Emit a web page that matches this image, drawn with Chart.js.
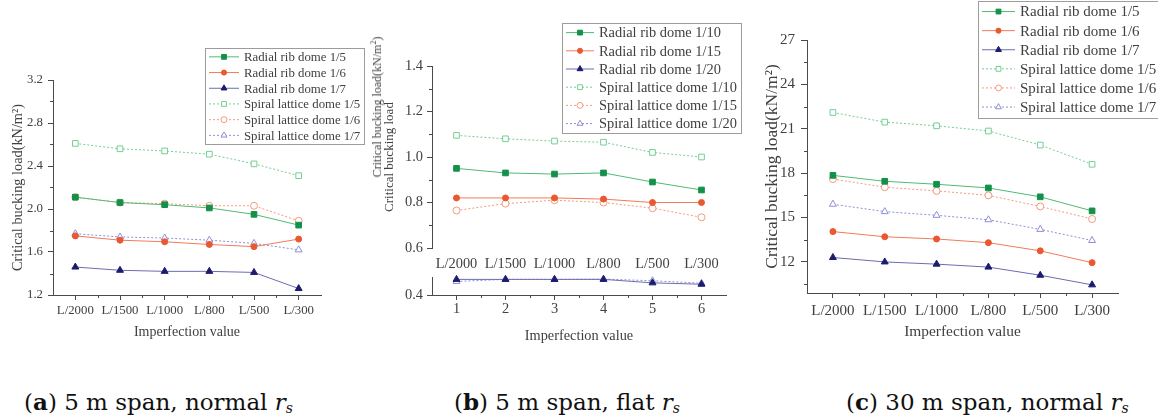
<!DOCTYPE html>
<html>
<head>
<style>
  body { margin: 0; padding: 0; background: #fff; }
  #page { position: relative; width: 1158px; height: 416px; overflow: hidden; background: #fff; }
  canvas { position: absolute; }
  .cap {
    position: absolute; top: 391px; line-height: 22px;
    font-family: 'DejaVu Serif', serif; font-size: 23px; color: #111; white-space: nowrap;
  }
  .cap sub { font-size: 14px; vertical-align: -3px; line-height: 0; font-style: italic; }
  #stray {
    position: absolute; left: 377px; top: 107px; white-space: nowrap;
    font-family: 'Liberation Serif', serif; font-size: 12px; color: #444;
    transform: translate(-50%, -50%) rotate(-90deg);
  }
</style>
</head>
<body>
<div id="page">
  <canvas id="chartA" width="372" height="345" style="left:0;top:0"></canvas>
  <canvas id="chartB1" width="390" height="273" style="left:372px;top:0"></canvas>
  <canvas id="chartB2" width="390" height="80" style="left:372px;top:265px"></canvas>
  <canvas id="chartC" width="396" height="345" style="left:762px;top:0"></canvas>
  <div id="stray">Critical bucking load(kN/m<sup style="font-size:8px">2</sup>)</div>
  <div class="cap" style="left:24px">(<b>a</b>) 5 m span, normal <i>r</i><sub>s</sub></div>
  <div class="cap" style="left:454px">(<b>b</b>) 5 m span, flat <i>r</i><sub>s</sub></div>
  <div class="cap" style="left:846px">(<b>c</b>) 30 m span, normal <i>r</i><sub>s</sub></div>
</div>

<script src="https://cdn.jsdelivr.net/npm/chart.js"></script>
<script>
// x categories
const imperfections = ['L/2000', 'L/1500', 'L/1000', 'L/800', 'L/500', 'L/300'];
const stepNumbers = ['1', '2', '3', '4', '5', '6'];

// (a) 5 m span, normal rise-span ratio
const aRadial5 = [2.11, 2.06, 2.04, 2.01, 1.95, 1.85];
const aRadial6 = [1.75, 1.71, 1.695, 1.67, 1.65, 1.72];
const aRadial7 = [1.46, 1.43, 1.42, 1.42, 1.41, 1.26];
const aSpiral5 = [2.61, 2.56, 2.54, 2.51, 2.42, 2.31];
const aSpiral6 = [2.11, 2.06, 2.05, 2.03, 2.03, 1.89];
const aSpiral7 = [1.77, 1.74, 1.73, 1.71, 1.68, 1.62];

// (b) 5 m span, flat rise-span ratio
const bRadial10 = [0.95, 0.93, 0.925, 0.93, 0.89, 0.855];
const bRadial15 = [0.82, 0.82, 0.82, 0.815, 0.80, 0.80];
const bRadial20 = [0.49, 0.49, 0.49, 0.49, 0.47, 0.462];
const bSpiral10 = [1.095, 1.08, 1.07, 1.065, 1.02, 1.0];
const bSpiral15 = [0.765, 0.795, 0.81, 0.80, 0.775, 0.735];
const bSpiral20 = [0.478, 0.49, 0.49, 0.492, 0.482, 0.468];

// (c) 30 m span, normal rise-span ratio
const cRadial5 = [17.85, 17.45, 17.25, 17.0, 16.4, 15.45];
const cRadial6 = [14.05, 13.7, 13.55, 13.3, 12.75, 11.95];
const cRadial7 = [12.3, 12.0, 11.85, 11.65, 11.1, 10.45];
const cSpiral5 = [22.1, 21.45, 21.2, 20.85, 19.9, 18.6];
const cSpiral6 = [17.6, 17.05, 16.8, 16.5, 15.75, 14.9];
const cSpiral7 = [15.9, 15.4, 15.15, 14.85, 14.2, 13.45];

const FONT = 'Liberation Serif';
const TXT = '#404040';
const AXIS = '#4a4a4a';

// colour sets: marker, solid line, dotted line
const GREEN = ['#13914a', '#4fbb72', '#74cf93'];
const ORANGE = ['#e9582f', '#f07b5a', '#f39a7e'];
const NAVY = ['#1c1c6e', '#6c6cb0', '#8e8ed6'];

function radial(label, data, col, shape) {
    return {
        label: label, data: data,
        borderColor: col[1], borderWidth: 1, borderDash: [],
        pointStyle: shape, pointRadius: shape === 'circle' ? 3 : 4,
        pointBackgroundColor: col[0], pointBorderColor: col[0], pointBorderWidth: 1,
        clip: false
    };
}
function spiral(label, data, col, shape) {
    return {
        label: label, data: data,
        borderColor: col[2], borderWidth: 1, borderDash: [2, 2],
        pointStyle: shape, pointRadius: shape === 'circle' ? 3.5 : 4,
        pointBackgroundColor: '#fff', pointBorderColor: col[2], pointBorderWidth: 1,
        clip: false
    };
}

function drawMarker(ctx, style, r, x, y) {
    ctx.beginPath();
    if (style === 'rect') {
        const s = r * Math.SQRT1_2;
        ctx.rect(x - s, y - s, 2 * s, 2 * s);
    } else if (style === 'triangle') {
        ctx.moveTo(x, y - r);
        ctx.lineTo(x + r * 0.866, y + r * 0.5);
        ctx.lineTo(x - r * 0.866, y + r * 0.5);
        ctx.closePath();
    } else {
        ctx.arc(x, y, r, 0, Math.PI * 2);
    }
    ctx.fill();
    ctx.stroke();
}

// legend drawn in a framed box, items taken from the datasets
const boxLegend = {
    id: 'boxLegend',
    afterDraw(chart, args, o) {
        if (!o || !o.show) return;
        const ctx = chart.ctx;
        const sets = chart.data.datasets;
        ctx.save();
        ctx.font = o.size + 'px "' + FONT + '"';
        let tw = 0;
        sets.forEach(ds => { tw = Math.max(tw, ctx.measureText(ds.label).width); });
        const w = 4 + o.icon + o.gap + tw + 4;
        const h = o.pad * 2 + o.rowH * sets.length;
        ctx.strokeStyle = '#9c9c9c';
        ctx.lineWidth = 1;
        ctx.strokeRect(Math.round(o.x) + 0.5, Math.round(o.y) + 0.5, Math.round(w), Math.round(h));
        sets.forEach((ds, i) => {
            const cy = o.y + o.pad + o.rowH * (i + 0.5);
            const x0 = o.x + 4;
            ctx.beginPath();
            ctx.setLineDash(ds.borderDash);
            ctx.strokeStyle = ds.borderColor;
            ctx.moveTo(x0, cy);
            ctx.lineTo(x0 + o.icon, cy);
            ctx.stroke();
            ctx.setLineDash([]);
            ctx.fillStyle = ds.pointBackgroundColor;
            ctx.strokeStyle = ds.pointBorderColor;
            drawMarker(ctx, ds.pointStyle, ds.pointRadius * 0.85, x0 + o.icon / 2, cy);
            ctx.fillStyle = TXT;
            ctx.textBaseline = 'middle';
            ctx.textAlign = 'left';
            ctx.fillText(ds.label, x0 + o.icon + o.gap, cy + 1);
        });
        ctx.restore();
    }
};

// small ticks half way between the labelled ones
const minorTicks = {
    id: 'minorTicks',
    afterDraw(chart) {
        const ctx = chart.ctx;
        const x = chart.scales.x, y = chart.scales.y;
        ctx.save();
        ctx.strokeStyle = AXIS;
        ctx.lineWidth = 1;
        ctx.beginPath();
        if (y.ticks.length > 1) {
            const step = y.ticks[1].value - y.ticks[0].value;
            const vals = [];
            for (let v = y.ticks[0].value - step / 2; v <= y.max + 1e-9; v += step) {
                if (v >= y.min - 1e-9) vals.push(v);
            }
            vals.forEach(v => {
                const py = Math.round(y.getPixelForValue(v)) + 0.5;
                ctx.moveTo(y.right, py);
                ctx.lineTo(y.right - 3, py);
            });
        }
        if (x.options.display !== false && x.options.border.display) {
            for (let i = 0; i < x.ticks.length - 1; i++) {
                const px = Math.round(x.getPixelForValue(i + 0.5)) + 0.5;
                ctx.moveTo(px, x.top);
                ctx.lineTo(px, x.top + 3);
            }
        }
        ctx.stroke();
        ctx.restore();
    }
};

function yAxis(o) {
    return {
        type: 'linear', min: o.min, max: o.max,
        afterFit: s => { s.width = o.width; },
        afterBuildTicks: o.only !== undefined
            ? s => { s.ticks = s.ticks.filter(t => Math.abs(t.value - o.only) < 1e-9); }
            : undefined,
        border: { display: true, color: AXIS, width: 1 },
        grid: { drawOnChartArea: false, drawTicks: true, tickLength: o.tick || 5, color: AXIS },
        ticks: {
            stepSize: o.step, includeBounds: false, color: TXT, padding: o.pad,
            font: { family: FONT, size: o.size },
            callback: v => Number(v).toFixed(o.dec)
        },
        title: {
            display: !!o.title, text: o.title, color: TXT,
            font: { family: FONT, size: o.titleSize },
            padding: { top: o.titlePad, bottom: 0 }
        }
    };
}

function xAxis(o) {
    return {
        type: 'category', offset: true,
        afterFit: s => { s.height = o.height; },
        border: { display: o.border !== false, color: AXIS, width: 1 },
        grid: {
            display: o.border !== false, drawOnChartArea: false, offset: false,
            drawTicks: o.border !== false, tickLength: 5, color: AXIS
        },
        ticks: {
            color: TXT, padding: o.pad, maxRotation: 0, autoSkip: false,
            font: { family: FONT, size: o.size }
        },
        title: {
            display: !!o.title, text: o.title, color: TXT,
            font: { family: FONT, size: o.titleSize },
            padding: { top: 0, bottom: o.titlePad }
        }
    };
}

function makeChart(id, labels, datasets, x, y, padding, legend) {
    return new Chart(document.getElementById(id), {
        type: 'line',
        data: { labels: labels, datasets: datasets },
        options: {
            responsive: false,
            animation: false,
            layout: { padding: padding },
            scales: { x: x, y: y },
            plugins: {
                legend: { display: false },
                tooltip: { enabled: false },
                boxLegend: legend
            }
        },
        plugins: [boxLegend, minorTicks]
    });
}

const yTitle = 'Critical bucking load(kN/m²)';

// (a)
makeChart('chartA', imperfections, [
    radial('Radial rib dome 1/5', aRadial5, GREEN, 'rect'),
    radial('Radial rib dome 1/6', aRadial6, ORANGE, 'circle'),
    radial('Radial rib dome 1/7', aRadial7, NAVY, 'triangle'),
    spiral('Spiral lattice dome 1/5', aSpiral5, GREEN, 'rect'),
    spiral('Spiral lattice dome 1/6', aSpiral6, ORANGE, 'circle'),
    spiral('Spiral lattice dome 1/7', aSpiral7, NAVY, 'triangle')
],
    xAxis({ height: 50, size: 12.8, pad: 3, title: 'Imperfection value', titleSize: 14, titlePad: 4 }),
    yAxis({ min: 1.2, max: 3.2, step: 0.4, dec: 1, width: 53, size: 12.8, pad: 5,
            title: yTitle, titleSize: 14.3, titlePad: 10 }),
    { left: 0, top: 80, right: 51, bottom: 0 },
    { show: true, x: 205, y: 48, rowH: 15.7, size: 12.8, icon: 30, gap: 5, pad: 1 });

// (b) upper part, 0.6 - 1.4
const b1 = [
    radial('Radial rib dome 1/10', bRadial10, GREEN, 'rect'),
    radial('Radial rib dome 1/15', bRadial15, ORANGE, 'circle'),
    radial('Radial rib dome 1/20', bRadial20, NAVY, 'triangle'),
    spiral('Spiral lattice dome 1/10', bSpiral10, GREEN, 'rect'),
    spiral('Spiral lattice dome 1/15', bSpiral15, ORANGE, 'circle'),
    spiral('Spiral lattice dome 1/20', bSpiral20, NAVY, 'triangle')
];
b1[2].hidden = true;
b1[5].hidden = true;
makeChart('chartB1', imperfections, b1,
    xAxis({ height: 25, size: 14.4, pad: 8, border: false }),
    yAxis({ min: 0.6, max: 1.4, step: 0.2, dec: 1, width: 60, size: 14.4, pad: 4,
            title: 'Critical bucking load', titleSize: 13, titlePad: 10 }),
    { left: 0, top: 66, right: 36, bottom: 0 },
    { show: true, x: 190, y: 23, rowH: 18.2, size: 14.4, icon: 28, gap: 5, pad: 0.5 });

// (b) lower part, 0.4 - 0.5
makeChart('chartB2', stepNumbers, [
    radial('Radial rib dome 1/20', bRadial20, NAVY, 'triangle'),
    spiral('Spiral lattice dome 1/20', bSpiral20, NAVY, 'triangle')
],
    xAxis({ height: 50, size: 14.4, pad: 1, title: 'Imperfection value', titleSize: 14.3, titlePad: 0 }),
    yAxis({ min: 0.4, max: 0.5, step: 0.1, dec: 1, width: 60, size: 14.4, pad: 4, only: 0.4 }),
    { left: 0, top: 8, right: 36, bottom: 0 },
    { show: false });

// (c)
makeChart('chartC', imperfections, [
    radial('Radial rib dome 1/5', cRadial5, GREEN, 'rect'),
    radial('Radial rib dome 1/6', cRadial6, ORANGE, 'circle'),
    radial('Radial rib dome 1/7', cRadial7, NAVY, 'triangle'),
    spiral('Spiral lattice dome 1/5', cSpiral5, GREEN, 'rect'),
    spiral('Spiral lattice dome 1/6', cSpiral6, ORANGE, 'circle'),
    spiral('Spiral lattice dome 1/7', cSpiral7, NAVY, 'triangle')
],
    xAxis({ height: 52, size: 15, pad: 4, title: 'Imperfection value', titleSize: 15.4, titlePad: 4 }),
    yAxis({ min: 9.9, max: 27, step: 3, dec: 0, width: 45, size: 15, pad: 6, tick: 6,
            title: yTitle, titleSize: 17.5, titlePad: 0 }),
    { left: 0, top: 40, right: 40, bottom: 0 },
    { show: true, x: 216, y: 1, rowH: 19.1, size: 15, icon: 33, gap: 5, pad: 1 });
</script>
</body>
</html>
